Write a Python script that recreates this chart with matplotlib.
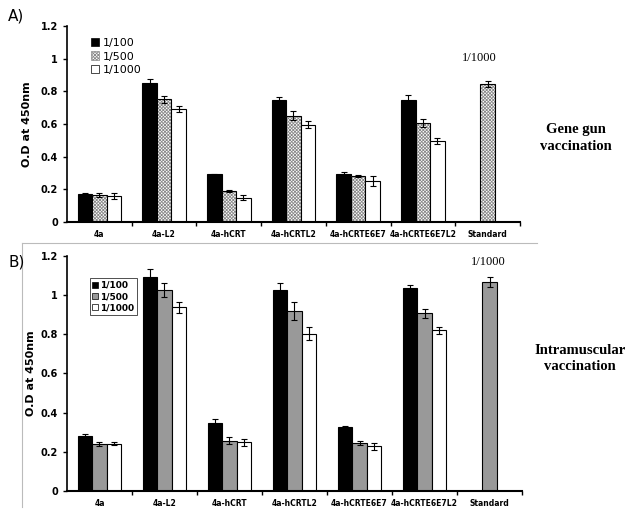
import numpy as np
import matplotlib
matplotlib.use("Agg")
import matplotlib.pyplot as plt
from matplotlib.patches import Patch

# ── Data ──
categories = ["4a", "4a-L2", "4a-hCRT", "4a-hCRTL2", "4a-hCRTE6E7",
              "4a-hCRTE6E7L2", "Standard"]
series = ["1/100", "1/500", "1/1000"]

# Panel A: gene gun vaccination (first six groups)
gg_100 = [0.170, 0.853, 0.292, 0.746, 0.297, 0.750]
gg_500 = [0.166, 0.752, 0.188, 0.652, 0.280, 0.605]
gg_1000 = [0.162, 0.691, 0.149, 0.597, 0.250, 0.497]
gg_100_err = [0.010, 0.022, 0.005, 0.022, 0.012, 0.030]
gg_500_err = [0.014, 0.022, 0.006, 0.030, 0.005, 0.025]
gg_1000_err = [0.018, 0.020, 0.016, 0.024, 0.030, 0.018]
gg_std = 0.847
gg_std_err = 0.018

# Panel B: intramuscular vaccination
im_100 = [0.279, 1.093, 0.349, 1.025, 0.325, 1.033]
im_500 = [0.238, 1.023, 0.257, 0.917, 0.245, 0.906]
im_1000 = [0.242, 0.936, 0.248, 0.803, 0.228, 0.819]
im_100_err = [0.012, 0.037, 0.019, 0.034, 0.005, 0.019]
im_500_err = [0.010, 0.036, 0.019, 0.046, 0.010, 0.024]
im_1000_err = [0.010, 0.026, 0.019, 0.034, 0.019, 0.019]
im_std = 1.064
im_std_err = 0.026

yticks = [0, 0.2, 0.4, 0.6, 0.8, 1, 1.2]
ytick_labels = ["0", "0.2", "0.4", "0.6", "0.8", "1", "1.2"]

W = 0.224
SANS = ["Verdana", "DejaVu Sans"]
SERIF = ["Liberation Serif", "DejaVu Serif"]
ERR = dict(ecolor="black", elinewidth=0.8, capsize=2.5, capthick=0.8)

plt.rcParams["hatch.linewidth"] = 0.6


def bars(ax, x, h, err, style):
    """Draw bars; hatched ones get a gray hatch under a black outline."""
    if "hatch" in style:
        ax.bar(x, h, W, facecolor="white", edgecolor=style["hcolor"],
               hatch=style["hatch"], linewidth=0)
        ax.bar(x, h, W, yerr=err, facecolor="none", edgecolor="black",
               linewidth=0.8, error_kw=ERR)
    else:
        ax.bar(x, h, W, yerr=err, facecolor=style["fc"], edgecolor="black",
               linewidth=0.8, error_kw=ERR)


def handle(style):
    if "hatch" in style:
        return Patch(facecolor="white", edgecolor=style["hcolor"],
                     hatch=style["hatch"], linewidth=0.5)
    return Patch(facecolor=style["fc"], edgecolor="black", linewidth=0.5)


def draw_panel(ax, vals, errs, std, std_err, mid_style, labelpad):
    x = np.arange(len(categories) - 1)
    styles = [dict(fc="black"), mid_style, dict(fc="white")]
    for k in range(3):
        bars(ax, x + (k - 1) * W, vals[k], errs[k], styles[k])
    # standard sample sits in the middle slot
    bars(ax, [len(categories) - 1], [std], [std_err], mid_style)

    ax.set_xlim(-0.5, len(categories) - 0.5)
    ax.set_ylim(0, 1.2)
    ax.set_yticks(yticks)
    ax.set_yticklabels(ytick_labels, fontsize=7, fontweight="bold",
                       family=SANS)
    ax.set_xticks(np.arange(len(categories)))
    ax.set_xticklabels(categories, fontsize=5.5, fontweight="bold",
                       family=SANS)
    ax.tick_params(axis="x", length=0, pad=6)
    ax.set_xticks(np.arange(len(categories)) + 0.5, minor=True)
    ax.tick_params(axis="x", which="minor", length=3, width=1)
    ax.tick_params(axis="y", length=3, width=1)
    ax.spines["top"].set_visible(False)
    ax.spines["right"].set_visible(False)
    ax.spines["left"].set_linewidth(1.2)
    ax.spines["bottom"].set_linewidth(1.5)
    ax.set_ylabel("O.D at 450nm", fontsize=8, fontweight="bold",
                  family=SANS, labelpad=labelpad)
    return [handle(s) for s in styles]


fig = plt.figure(figsize=(6.36, 5.2), dpi=100)

axA = fig.add_axes([0.1053, 0.573, 0.7123, 0.377])
hA = draw_panel(axA, [gg_100, gg_500, gg_1000],
                [gg_100_err, gg_500_err, gg_1000_err], gg_std, gg_std_err,
                dict(hatch="xxxxxxxxxx", hcolor="#8a8a8a"), 6)
axA.legend(hA, series, loc="upper left", bbox_to_anchor=(0.03, 0.99),
           frameon=False, handlelength=0.8, handleheight=0.8,
           handletextpad=0.3, labelspacing=0.3,
           prop=dict(family=SANS, size=8))
axA.text(0.91, 0.82, "1/1000", transform=axA.transAxes, ha="center",
         fontsize=9, family=SERIF)

axB = fig.add_axes([0.1053, 0.0558, 0.7155, 0.4525])
hB = draw_panel(axB, [im_100, im_500, im_1000],
                [im_100_err, im_500_err, im_1000_err], im_std, im_std_err,
                dict(fc="#999999"), 3)
legB = axB.legend(hB, series, loc="upper left", bbox_to_anchor=(0.05, 0.905),
                  frameon=True, fancybox=False, edgecolor="black",
                  handlelength=0.65, handleheight=0.65, handletextpad=0.2,
                  labelspacing=0.25, borderpad=0.3, borderaxespad=0,
                  prop=dict(family=SANS, size=6.5, weight="bold"))
legB.get_frame().set_linewidth(0.6)
axB.text(0.925, 0.96, "1/1000", transform=axB.transAxes, ha="center",
         fontsize=9, family=SERIF)

# light frame around panel B
fig.add_artist(plt.Line2D([22 / 636, 537 / 636], [1 - 243 / 520, 1 - 243 / 520],
                          color="#bbbbbb", lw=0.8))
fig.add_artist(plt.Line2D([22 / 636, 22 / 636], [1 - 243 / 520, 1 - 507 / 520],
                          color="#bbbbbb", lw=0.8))

fig.text(8 / 636, 1 - 16 / 520, "A)", fontsize=11, family=SANS, va="center")
fig.text(8 / 636, 1 - 262 / 520, "B)", fontsize=11, family=SANS, va="center")

fig.text(576 / 636, 1 - 138 / 520, "Gene gun\nvaccination", ha="center",
         va="center", fontsize=10.5, fontweight="bold", family=SERIF,
         linespacing=1.3)
fig.text(580 / 636, 1 - 359 / 520, "Intramuscular\nvaccination", ha="center",
         va="center", fontsize=10.5, fontweight="bold", family=SERIF,
         linespacing=1.3)

fig.savefig("out.png", dpi=100, facecolor="white")
